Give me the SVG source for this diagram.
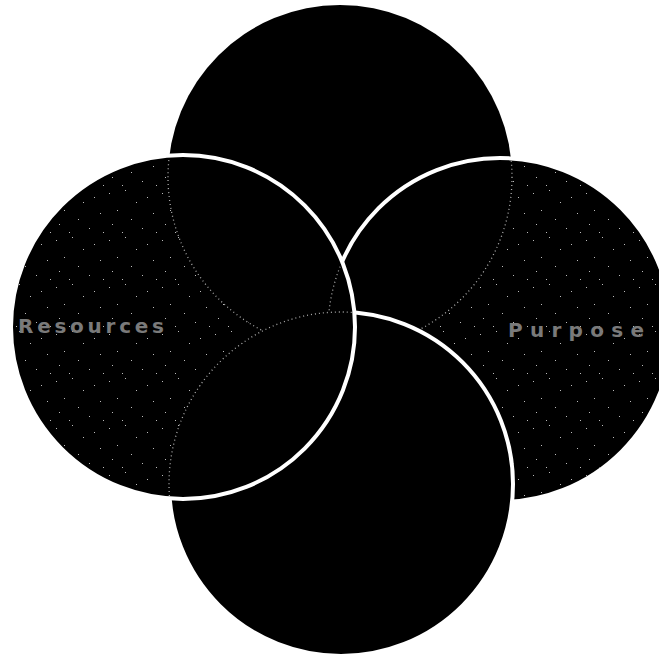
<svg xmlns="http://www.w3.org/2000/svg" width="659" height="660" viewBox="0 0 659 660">
<style>
.disc{fill:#000;}
.ring{fill:#000;stroke:#fff;stroke-width:4;}
.hid{fill:none;stroke:#aaa;stroke-width:1.3;stroke-dasharray:1 3;}
.lbl{font-family:"DejaVu Sans","Liberation Sans",sans-serif;font-size:20px;font-weight:bold;fill:#7a7a7a;}
</style>
<defs>
<pattern id="speck" width="53" height="47" patternUnits="userSpaceOnUse">
<rect x="3" y="5" width="1" height="1" fill="#bbb"/>
<rect x="19" y="2" width="1" height="1" fill="#bbb"/>
<rect x="41" y="9" width="1" height="1" fill="#bbb"/>
<rect x="30" y="14" width="1" height="1" fill="#bbb"/>
<rect x="11" y="22" width="1" height="1" fill="#bbb"/>
<rect x="47" y="25" width="1" height="1" fill="#bbb"/>
<rect x="25" y="31" width="1" height="1" fill="#bbb"/>
<rect x="6" y="36" width="1" height="1" fill="#bbb"/>
<rect x="36" y="40" width="1" height="1" fill="#bbb"/>
<rect x="50" y="44" width="1" height="1" fill="#bbb"/>
<rect x="16" y="44" width="1" height="1" fill="#bbb"/>
</pattern>
<mask id="mLeftOnly">
<circle cx="183" cy="327" r="170" fill="#fff"/>
<circle cx="340" cy="177" r="172" fill="#000"/>
<circle cx="341" cy="484" r="172" fill="#000"/>
</mask>
<mask id="mRightOnly">
<circle cx="500" cy="330" r="170" fill="#fff"/>
<circle cx="340" cy="177" r="172" fill="#000"/>
<circle cx="341" cy="484" r="174" fill="#000"/>
</mask>
<mask id="mLeftNoBottom">
<circle cx="183" cy="327" r="170" fill="#fff"/>
<circle cx="341" cy="484" r="172" fill="#000"/>
</mask>
<clipPath id="cRight"><circle cx="500" cy="330" r="172"/></clipPath>
<clipPath id="cLeft"><circle cx="183" cy="327" r="170"/></clipPath>
</defs>
<rect width="659" height="660" fill="#fff"/>
<g id="top-circle"><circle class="disc" cx="340" cy="177" r="172"/></g>
<g id="right-circle">
<circle class="ring" cx="500" cy="330" r="172"/>
<rect x="320" y="150" width="339" height="360" fill="url(#speck)" mask="url(#mRightOnly)"/>
<g clip-path="url(#cRight)"><circle class="hid" cx="340" cy="177" r="172"/></g>
<text class="lbl" x="508" y="337" textLength="136" lengthAdjust="spacing">Purpose</text>
</g>
<g id="bottom-circle"><circle class="ring" cx="341" cy="484" r="172"/></g>
<g id="left-circle">
<circle class="ring" cx="183" cy="327" r="172"/>
<rect x="5" y="150" width="360" height="360" fill="url(#speck)" mask="url(#mLeftOnly)"/>
<g mask="url(#mLeftNoBottom)">
<circle class="hid" cx="340" cy="177" r="172"/>
<circle class="hid" cx="500" cy="330" r="172"/>
</g>
<g clip-path="url(#cLeft)">
<circle class="hid" cx="341" cy="484" r="172"/>
</g>
<text class="lbl" x="18" y="333" textLength="146" lengthAdjust="spacing">Resources</text>
</g>
<g id="connectors"></g>
</svg>
